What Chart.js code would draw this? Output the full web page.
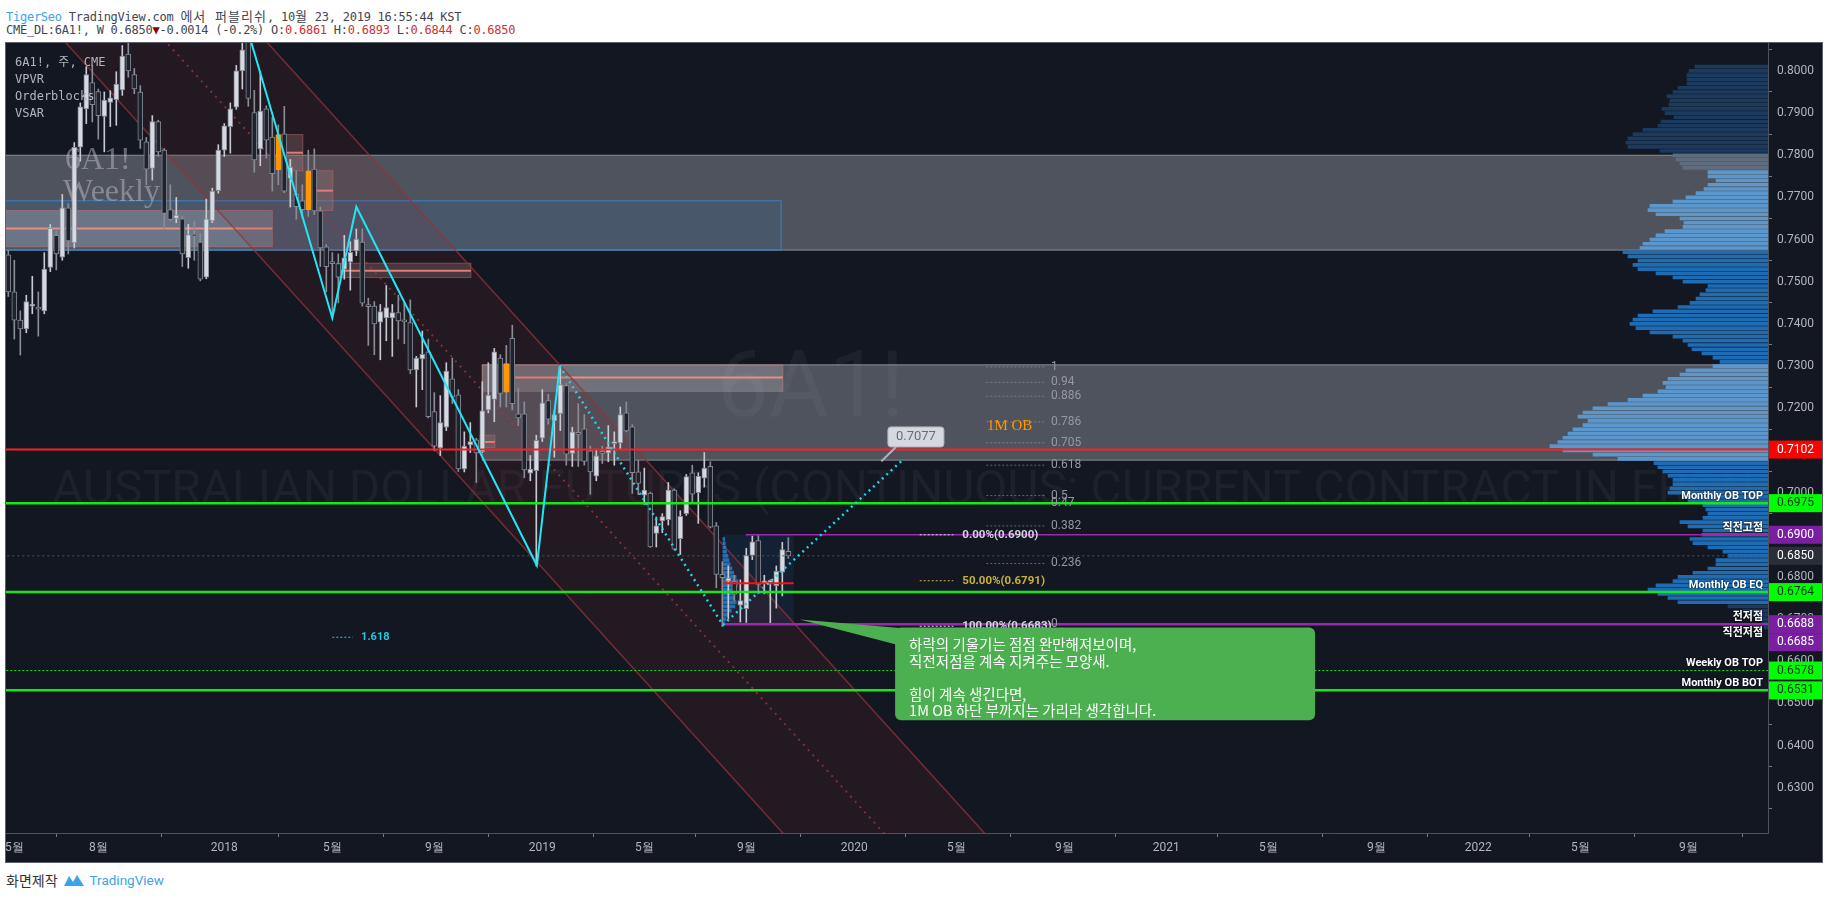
<!DOCTYPE html>
<html>
<head>
<meta charset="utf-8">
<title>6A1! Weekly</title>
<script src="https://cdn.jsdelivr.net/npm/chart.js@4.4.1/dist/chart.umd.min.js"></script>
<style>
  body { margin: 0; width: 1828px; height: 898px; overflow: hidden; background: #fff; position: relative; }
  .hdr { position: absolute; left: 6px; font: 12px "DejaVu Sans Mono", "Noto Sans CJK KR", monospace; letter-spacing: -0.25px; color: #434651; white-space: pre; }
  .hdr .k { letter-spacing: 1px; font-size: 13px; }
  #h1 { top: 6px; }
  #h2 { top: 23px; }
  .r { color: #d32f2f; }
  #frame { position: absolute; left: 5px; top: 42px; width: 1816px; height: 819px; border: 1px solid #5d606b; background: #131722; }
  #chart { display: block; }
  #foot { position: absolute; left: 6px; top: 870px; font: 14px "Noto Sans CJK KR", sans-serif; color: #333; display: flex; align-items: center; gap: 5px; }
  #foot .tv { color: #3ba4e8; font-family: Roboto, sans-serif; font-size: 13.5px; }
</style>
</head>
<body>
<div id="h1" class="hdr"><span style="color:#3ba4e8">TigerSeo</span> TradingView.com <span class="k">에서 퍼블리쉬</span>, 10<span class="k">월</span> 23, 2019 16:55:44 KST</div>
<div id="h2" class="hdr">CME_DL:6A1!, W 0.6850<span style="color:#8b0000">▼</span>-0.0014 (-0.2%) O:<span class="r">0.6861</span> H:<span class="r">0.6893</span> L:<span class="r">0.6844</span> C:<span class="r">0.6850</span></div>
<div id="frame"><canvas id="chart" width="1816" height="819"></canvas></div>
<div id="foot">화면제작
  <svg width="22" height="15" viewBox="0 0 22 15"><path d="M1 13 L6 3 L10 9 L14 2 L21 13 Z" fill="#3ba4e8"/></svg>
  <span class="tv">TradingView</span></div>

<script>
// ========================================
// Data (weekly candles, index 0 = week of 2017-04-24)
// ========================================

const opens = [
  0.7564, 0.7476, 0.7409, 0.7388, 0.7442, 0.7440, 0.7431, 0.7534, 0.7610, 0.7558,
  0.7675, 0.7592, 0.7819, 0.7910, 0.7972, 0.7951, 0.7892, 0.7925, 0.7932, 0.7955,
  0.8040, 0.7991, 0.7950, 0.7832, 0.7769, 0.7880, 0.7812, 0.7671, 0.7650, 0.7649,
  0.7557, 0.7610, 0.7594, 0.7511, 0.7644, 0.7716, 0.7812, 0.7868, 0.7914, 0.8000,
  0.8080, 0.7901, 0.7815, 0.7910, 0.7843, 0.7849, 0.7851, 0.7745, 0.7707, 0.7692,
  0.7763, 0.7767, 0.7668, 0.7583, 0.7545, 0.7543, 0.7530, 0.7547, 0.7573, 0.7594,
  0.7442, 0.7442, 0.7404, 0.7414, 0.7414, 0.7427, 0.7406, 0.7403, 0.7291, 0.7317,
  0.7334, 0.7192, 0.7106, 0.7155, 0.7270, 0.7232, 0.7056, 0.7113, 0.7125, 0.7097,
  0.7196, 0.7221, 0.7319, 0.7306, 0.7366, 0.7187, 0.7187, 0.7046, 0.7052, 0.7129,
  0.7218, 0.7170, 0.7187, 0.7254, 0.7093, 0.7141, 0.7151, 0.7099, 0.7039, 0.7095,
  0.7094, 0.7116, 0.7118, 0.7189, 0.7156, 0.7049, 0.6994, 0.6999, 0.6903, 0.6933,
  0.6936, 0.7006, 0.6891, 0.6950, 0.7047, 0.7000, 0.7034, 0.7062, 0.6921, 0.6806,
  0.6790, 0.6789, 0.6733, 0.6725, 0.6851, 0.6886, 0.6784, 0.6787, 0.6779, 0.6811,
  0.6861
];
const highs = [
  0.7575, 0.7551, 0.7431, 0.7468, 0.7513, 0.7476, 0.7569, 0.7636, 0.7621, 0.7707,
  0.7685, 0.7830, 0.7924, 0.8010, 0.8013, 0.7957, 0.7950, 0.7953, 0.7998, 0.8060,
  0.8090, 0.8006, 0.7965, 0.7842, 0.7894, 0.7883, 0.7816, 0.7730, 0.7700, 0.7655,
  0.7636, 0.7644, 0.7614, 0.7696, 0.7722, 0.7825, 0.7875, 0.7924, 0.8013, 0.8110,
  0.8110, 0.7954, 0.7998, 0.7917, 0.7890, 0.7872, 0.7916, 0.7790, 0.7763, 0.7730,
  0.7812, 0.7815, 0.7677, 0.7588, 0.7569, 0.7566, 0.7610, 0.7595, 0.7625, 0.7625,
  0.7461, 0.7453, 0.7446, 0.7491, 0.7446, 0.7468, 0.7450, 0.7457, 0.7323, 0.7383,
  0.7364, 0.7237, 0.7230, 0.7308, 0.7319, 0.7244, 0.7144, 0.7166, 0.7129, 0.7263,
  0.7308, 0.7342, 0.7327, 0.7349, 0.7397, 0.7248, 0.7215, 0.7088, 0.7136, 0.7244,
  0.7233, 0.7194, 0.7301, 0.7259, 0.7155, 0.7211, 0.7185, 0.7110, 0.7103, 0.7110,
  0.7159, 0.7144, 0.7203, 0.7215, 0.7161, 0.7077, 0.7058, 0.7001, 0.6942, 0.6950,
  0.7024, 0.7009, 0.6957, 0.7043, 0.7065, 0.7047, 0.7095, 0.7073, 0.6929, 0.6836,
  0.6826, 0.6804, 0.6793, 0.6868, 0.6897, 0.6901, 0.6804, 0.6793, 0.6826, 0.6882,
  0.6893
];
const lows = [
  0.7465, 0.7364, 0.7326, 0.7379, 0.7424, 0.7371, 0.7424, 0.7524, 0.7528, 0.7551,
  0.7566, 0.7580, 0.7786, 0.7875, 0.7879, 0.7838, 0.7808, 0.7868, 0.7871, 0.7942,
  0.7985, 0.7946, 0.7816, 0.7730, 0.7741, 0.7797, 0.7625, 0.7644, 0.7640, 0.7536,
  0.7532, 0.7551, 0.7502, 0.7507, 0.7640, 0.7710, 0.7797, 0.7805, 0.7909, 0.7957,
  0.7916, 0.7760, 0.7775, 0.7793, 0.7715, 0.7730, 0.7711, 0.7677, 0.7648, 0.7651,
  0.7655, 0.7659, 0.7536, 0.7476, 0.7416, 0.7450, 0.7506, 0.7480, 0.7562, 0.7442,
  0.7349, 0.7327, 0.7315, 0.7360, 0.7323, 0.7364, 0.7353, 0.7282, 0.7203, 0.7244,
  0.7177, 0.7099, 0.7088, 0.7147, 0.7211, 0.7050, 0.7049, 0.7095, 0.7024, 0.7095,
  0.7189, 0.7168, 0.7203, 0.7203, 0.7196, 0.7159, 0.7035, 0.7028, 0.6826, 0.7121,
  0.7162, 0.7084, 0.7147, 0.7065, 0.7062, 0.7062, 0.7065, 0.6996, 0.7028, 0.7069,
  0.7073, 0.7065, 0.7103, 0.7144, 0.6998, 0.6995, 0.6972, 0.6870, 0.6871, 0.6905,
  0.6923, 0.6864, 0.6853, 0.6946, 0.6976, 0.6927, 0.7013, 0.6916, 0.6774, 0.6683,
  0.6700, 0.6744, 0.6693, 0.6692, 0.6841, 0.6760, 0.6760, 0.6688, 0.6726, 0.6755,
  0.6844
];
const closes = [
  0.7476, 0.7409, 0.7388, 0.7453, 0.7447, 0.7435, 0.7530, 0.7627, 0.7566, 0.7675,
  0.7597, 0.7819, 0.7915, 0.7991, 0.7920, 0.7894, 0.7931, 0.7936, 0.7969, 0.8035,
  0.8000, 0.7957, 0.7836, 0.7767, 0.7880, 0.7808, 0.7662, 0.7648, 0.7658, 0.7566,
  0.7612, 0.7608, 0.7506, 0.7649, 0.7715, 0.7812, 0.7870, 0.7910, 0.8000, 0.8050,
  0.7935, 0.7789, 0.7905, 0.7836, 0.7756, 0.7766, 0.7715, 0.7772, 0.7678, 0.7671,
  0.7671, 0.7668, 0.7580, 0.7536, 0.7543, 0.7511, 0.7557, 0.7570, 0.7601, 0.7449,
  0.7441, 0.7400, 0.7429, 0.7439, 0.7427, 0.7407, 0.7405, 0.7291, 0.7319, 0.7328,
  0.7180, 0.7110, 0.7166, 0.7288, 0.7226, 0.7056, 0.7110, 0.7121, 0.7094, 0.7194,
  0.7231, 0.7334, 0.7235, 0.7238, 0.7211, 0.7177, 0.7054, 0.7056, 0.7124, 0.7213,
  0.7174, 0.7185, 0.7256, 0.7091, 0.7144, 0.7138, 0.7074, 0.7049, 0.7087, 0.7093,
  0.7108, 0.7120, 0.7185, 0.7146, 0.7047, 0.7022, 0.7006, 0.6871, 0.6921, 0.6943,
  0.7006, 0.6866, 0.6944, 0.7038, 0.6996, 0.7039, 0.7058, 0.6918, 0.6806, 0.6798,
  0.6797, 0.6759, 0.6744, 0.6851, 0.6883, 0.6782, 0.6791, 0.6790, 0.6813, 0.6865,
  0.6850
];
const highlightWeeks = [45, 50, 83];   // orange VSAR bars

// time axis: week index of first bar of each labelled month
const tickWeeks = [1, 15, 36, 54, 71, 89, 106, 123, 141, 158, 176, 193, 210, 228, 245, 262, 280];
const tickLabels = ['5월', '8월', '2018', '5월', '9월', '2019', '5월', '9월', '2020', '5월', '9월', '2021', '5월', '9월', '2022', '5월', '9월'];

// visible volume profile, rows from the top price downwards
const vpvrTop = 0.801;
const vpvrStep = 0.001;
const vpvrVolume = [
  73, 79, 81, 81, 81, 90, 95, 101, 98, 99,
  106, 103, 94, 107, 110, 125, 135, 140, 142, 140,
  108, 95, 92, 88, 85, 60, 60, 52, 60, 64,
  72, 82, 95, 118, 120, 112, 88, 84, 85, 103,
  112, 118, 125, 128, 145, 140, 130, 135, 130, 112,
  95, 85, 60, 62, 68, 72, 78, 90, 115, 130,
  135, 138, 132, 118, 95, 85, 80, 76, 66, 55,
  48, 55, 82, 88, 100, 105, 102, 110, 125, 140,
  160, 175, 185, 190, 180, 185, 195, 200, 205, 210,
  218, 205, 175, 150, 114, 110, 105, 100, 95, 95,
  98, 100, 85, 80, 65, 62, 60, 65, 88, 80,
  65, 66, 78, 75, 60, 45, 40, 52, 52, 60,
  75, 90, 95, 112, 120, 110, 100, 90, 40, 25,
  15, 10, 6, 4
];
const valueAreaLow = 0.6735;
const valueAreaHigh = 0.7765;

// session volume profile inside the Aug-Oct 2019 box (weeks of width)
const sessionTop = 0.689;
const sessionVolume = [0.3, 0.4, 0.5, 0.6, 0.8, 1.0, 1.2, 1.5, 1.8, 2.2, 2.5, 2.4, 2.0, 1.6, 1.8, 2.2, 2.0, 1.4, 0.9, 0.5, 0.3];

// descending channel, prices at both end weeks
const channelWeeks = [0, 170];
const channelUpper = [0.8744, 0.6078];
const channelMiddle = [0.8481, 0.5815];
const channelLower = [0.8217, 0.5551];

// swing lines
const swingWeeks = [39, 54, 58, 88.1, 91.9];
const swingPrices = [0.8140, 0.7414, 0.7678, 0.6827, 0.7300];
const projWeeks = [91.9, 119.1, 148.8];
const projPrices = [0.7300, 0.6686, 0.7074];

// order blocks: [fromWeek, toWeek, low, high]
const zoneBoxes = [[-1, 300, 0.7575, 0.7800], [79, 300, 0.7077, 0.7303]];
const weeklyBox = [-1, 128.8, 0.7575, 0.7692];
const obBoxes = [
  [-1, 44, 0.7583, 0.7669], [45.6, 49.1, 0.7763, 0.7849], [51.4, 54.1, 0.7669, 0.7763],
  [54.8, 77.1, 0.7510, 0.7544], [79, 129.1, 0.7240, 0.7303], [78.6, 81.1, 0.7107, 0.7136]
];
const obBoxLight = [true, false, false, false, true, false];
const obLines = [
  [-1, 44, 0.7626], [45.6, 49.1, 0.7806], [51.4, 54.1, 0.7716],
  [54.8, 77.1, 0.7526], [84.1, 129.1, 0.7273], [78.6, 81.1, 0.7120]
];
const sessionBox = [119.1, 130.9, 0.6686, 0.6900];
const sessionPoc = 0.6785;

// horizontal levels
const levelPrices = [0.7102, 0.6975, 0.6764, 0.6578, 0.6531, 0.6900, 0.6688, 0.6850];
const levelFrom = [-1, -1, -1, -1, -1, 122.9, 119.0, -1];
const levelStyles = [
  { color: '#ff1f1f', width: 2 }, { color: '#19e619', width: 2.5 }, { color: '#19e619', width: 2.5 },
  { color: '#19e619', width: 1, dash: [2, 2] }, { color: '#19e619', width: 2.5 },
  { color: '#9c27b0', width: 1.5 }, { color: '#9c27b0', width: 2.5 },
  { color: '#50535e', width: 1, dash: [2, 3] }
];
const sideLabels = ['Monthly OB TOP', '직전고점', 'Monthly OB EQ', '전저점', '직전저점', 'Weekly OB TOP', 'Monthly OB BOT'];
const sidePrices = [0.6975, 0.6900, 0.6764, 0.6688, 0.6685, 0.6578, 0.6531];

// price-axis tags
const tagPrices = [0.7102, 0.6975, 0.6900, 0.6850, 0.6764, 0.6688, 0.6685, 0.6578, 0.6531];
const tagStyles = [
  ['#ff0000', '#ffffff'], ['#00ff00', '#10301a'], ['#7b1fa2', '#ffffff'], ['#2a2e39', '#ffffff'],
  ['#00ff00', '#10301a'], ['#7b1fa2', '#ffffff'], ['#7b1fa2', '#ffffff'], ['#00ff00', '#10301a'], ['#00ff00', '#10301a']
];

// fibonacci retracement of the last swing
const fibLow = 0.6688;
const fibHigh = 0.7298;
const fibLevels = [1, 0.94, 0.886, 0.786, 0.705, 0.618, 0.5, 0.47, 0.382, 0.236, 0];
const retracePrices = [0.6900, 0.6791, 0.6683];
const retraceLabels = ['0.00%(0.6900)', '50.00%(0.6791)', '100.00%(0.6683)'];

const noteLines = ['하락의 기울기는 점점 완만해져보이며,', '직전저점을 계속 지켜주는 모양새.', '', '힘이 계속 생긴다면,', '1M OB 하단 부까지는 가리라 생각합니다.'];

// ========================================
// Derived series
// ========================================

const weeks = opens.map((_, i) => i);
const isUp = weeks.map(i => closes[i] >= opens[i]);
const bodyFill = weeks.map(i => highlightWeeks.includes(i) ? '#ff9800' : (isUp[i] ? '#d6d9e0' : '#1e222d'));
const bodyEdge = weeks.map(i => highlightWeeks.includes(i) ? '#ff9800' : '#858893');
const wickColor = weeks.map(i => isUp[i] ? '#c6c9d1' : '#8a8d96');

const vpvrPrices = vpvrVolume.map((_, i) => vpvrTop - i * vpvrStep);
function inZone(p) {
  return zoneBoxes.some(b => p >= b[2] && p <= b[3]);
}
const vpvrColors = vpvrPrices.map(p => {
  const va = p >= valueAreaLow && p <= valueAreaHigh;
  if (inZone(p)) return va ? '#5b97cc' : '#5f6c7d';
  return va ? '#1e6cb4' : '#1b3a5e';
});
const sessionPrices = sessionVolume.map((_, i) => sessionTop - i * vpvrStep);

function hline(from, to, price, style, order) {
  return {
    type: 'line', data: [{ x: from, y: price }, { x: to, y: price }],
    borderColor: style.color, borderWidth: style.width, borderDash: style.dash || [],
    pointRadius: 0, fill: false, order: order
  };
}

const datasets = [
  {
    type: 'line', label: 'channel',
    data: channelWeeks.map((w, i) => ({ x: w, y: channelUpper[i] })),
    borderColor: 'rgba(150,50,55,0.75)', borderWidth: 1.5, pointRadius: 0,
    fill: '+1', backgroundColor: 'rgba(130,40,50,0.15)', order: 20
  },
  {
    type: 'line',
    data: channelWeeks.map((w, i) => ({ x: w, y: channelLower[i] })),
    borderColor: 'rgba(150,50,55,0.75)', borderWidth: 1.5, pointRadius: 0, fill: false, order: 19
  },
  {
    type: 'line',
    data: channelWeeks.map((w, i) => ({ x: w, y: channelMiddle[i] })),
    borderColor: 'rgba(170,55,60,0.7)', borderWidth: 2, borderDash: [2, 5], pointRadius: 0, fill: false, order: 18
  },
  {
    type: 'bar', label: 'vpvr', indexAxis: 'y', xAxisID: 'xv', yAxisID: 'y',
    data: vpvrPrices.map((p, i) => ({ x: vpvrVolume[i], y: p })),
    backgroundColor: vpvrColors, barThickness: 3, grouped: false, order: 17
  },
  {
    type: 'bar', label: 'session profile', indexAxis: 'y', xAxisID: 'x', yAxisID: 'y',
    data: sessionPrices.map((p, i) => ({ x: [sessionBox[0], sessionBox[0] + sessionVolume[i]], y: p })),
    backgroundColor: 'rgba(33,140,230,0.75)', barThickness: 3, grouped: false, order: 16
  },
  {
    type: 'bar', label: 'wicks',
    data: weeks.map(i => ({ x: i, y: [lows[i], highs[i]] })),
    backgroundColor: wickColor, barThickness: 1, grouped: false, minBarLength: 1, order: 12
  },
  {
    type: 'bar', label: 'bodies',
    data: weeks.map(i => ({ x: i, y: [opens[i], closes[i]] })),
    backgroundColor: bodyFill, borderColor: bodyEdge, borderWidth: 1, borderSkipped: false,
    barThickness: 5, grouped: false, minBarLength: 2, order: 11
  }
];

levelPrices.forEach((p, i) => datasets.push(hline(levelFrom[i], 300, p, levelStyles[i], 8)));
datasets.push(hline(sessionBox[0], sessionBox[1], sessionPoc, { color: '#ff1010', width: 2 }, 7));
datasets.push({
  type: 'line', data: swingWeeks.map((w, i) => ({ x: w, y: swingPrices[i] })),
  borderColor: '#1de9f6', borderWidth: 2, pointRadius: 0, fill: false, tension: 0, order: 5
});
datasets.push({
  type: 'line', data: projWeeks.map((w, i) => ({ x: w, y: projPrices[i] })),
  borderColor: '#22d3e6', borderWidth: 2.5, borderDash: [2, 4], pointRadius: 0, fill: false, tension: 0, order: 4
});

// ========================================
// Overlay drawing (boxes, labels, tags)
// ========================================

function rectFor(x, y, b) {
  const x0 = x.getPixelForValue(b[0]), x1 = x.getPixelForValue(b[1]);
  const y0 = y.getPixelForValue(b[3]), y1 = y.getPixelForValue(b[2]);
  return [x0, y0, x1 - x0, y1 - y0];
}

const overlays = {
  id: 'overlays',
  beforeDraw(chart) {
    const ctx = chart.ctx;
    ctx.save();
    ctx.fillStyle = '#131722';
    ctx.fillRect(0, 0, chart.width, chart.height);
    ctx.restore();
  },
  beforeDatasetsDraw(chart) {
    const { ctx, chartArea: a, scales: { x, y } } = chart;
    ctx.save();
    ctx.beginPath();
    ctx.rect(a.left, a.top, a.right - a.left, a.bottom - a.top);
    ctx.clip();

    // symbol watermark
    ctx.fillStyle = 'rgba(255,255,255,0.045)';
    ctx.textBaseline = 'middle';
    ctx.font = '48px Roboto';
    ctx.fillText('AUSTRALIAN DOLLAR FUTURES (CONTINUOUS: CURRENT CONTRACT IN FRONT)', a.left + 46, a.top + 449);
    ctx.font = '92px Roboto';
    ctx.fillText('6A1!', a.left + 711, a.top + 350);

    zoneBoxes.forEach(b => {
      const r = rectFor(x, y, b);
      ctx.fillStyle = 'rgba(163,166,176,0.42)';
      ctx.fillRect(...r);
      ctx.strokeStyle = 'rgba(160,163,170,0.8)';
      ctx.lineWidth = 1;
      ctx.strokeRect(...r);
    });

    let r = rectFor(x, y, weeklyBox);
    ctx.fillStyle = 'rgba(40,110,200,0.14)';
    ctx.fillRect(...r);
    ctx.strokeStyle = '#3f7fc0';
    ctx.strokeRect(...r);

    obBoxes.forEach((b, i) => {
      const rr = rectFor(x, y, b);
      ctx.fillStyle = obBoxLight[i] ? 'rgba(205,205,210,0.26)' : 'rgba(170,140,140,0.3)';
      ctx.fillRect(...rr);
      ctx.strokeStyle = 'rgba(220,120,120,0.45)';
      ctx.strokeRect(...rr);
    });
    obLines.forEach(l => {
      const py = y.getPixelForValue(l[2]);
      ctx.strokeStyle = '#f08a84';
      ctx.lineWidth = 2;
      ctx.beginPath();
      ctx.moveTo(x.getPixelForValue(l[0]), py);
      ctx.lineTo(x.getPixelForValue(l[1]), py);
      ctx.stroke();
    });

    r = rectFor(x, y, sessionBox);
    ctx.fillStyle = 'rgba(30,100,180,0.13)';
    ctx.fillRect(...r);
    ctx.restore();
  },
  afterDatasetsDraw(chart) {
    const { ctx, chartArea: a, scales: { x, y } } = chart;
    ctx.save();
    ctx.beginPath();
    ctx.rect(a.left, a.top, a.right - a.left, a.bottom - a.top);
    ctx.clip();
    ctx.textBaseline = 'middle';

    // pane legend
    ctx.fillStyle = '#b2b5be';
    ctx.font = '12px "DejaVu Sans Mono", "Noto Sans CJK KR"';
    ['6A1!, 주, CME', 'VPVR', 'Orderblocks', 'VSAR'].forEach((t, i) => ctx.fillText(t, a.left + 9, a.top + 20 + i * 17));

    // text watermark on the weekly zone
    ctx.fillStyle = 'rgba(205,205,210,0.45)';
    ctx.font = '32px "Liberation Serif"';
    ctx.fillText('6A1!', a.left + 59, a.top + 118);
    ctx.fillText('Weekly', a.left + 57, a.top + 150);

    // fibonacci levels
    ctx.font = '12px Roboto';
    fibLevels.forEach(l => {
      const py = y.getPixelForValue(fibLow + l * (fibHigh - fibLow));
      ctx.strokeStyle = 'rgba(160,163,170,0.55)';
      ctx.lineWidth = 1;
      ctx.setLineDash([2, 2]);
      ctx.beginPath();
      ctx.moveTo(x.getPixelForValue(163), py);
      ctx.lineTo(x.getPixelForValue(172.8), py);
      ctx.stroke();
      ctx.fillStyle = '#9598a1';
      ctx.fillText(String(l), x.getPixelForValue(173.8), py);
    });
    ctx.font = 'bold 11.5px Roboto';
    retracePrices.forEach((p, i) => {
      const py = y.getPixelForValue(p);
      const col = i === 1 ? '#c9b23a' : '#d1d4dc';
      ctx.strokeStyle = col;
      ctx.setLineDash([2, 2]);
      ctx.beginPath();
      ctx.moveTo(x.getPixelForValue(151.9), py);
      ctx.lineTo(x.getPixelForValue(157.5), py);
      ctx.stroke();
      ctx.fillStyle = col;
      ctx.fillText(retraceLabels[i], x.getPixelForValue(159), py);
    });

    // 1.618 extension
    const ey = y.getPixelForValue(0.6657);
    ctx.strokeStyle = '#22d3e6';
    ctx.beginPath();
    ctx.moveTo(x.getPixelForValue(54), ey);
    ctx.lineTo(x.getPixelForValue(57.4), ey);
    ctx.stroke();
    ctx.setLineDash([]);
    ctx.fillStyle = '#22c8e0';
    ctx.font = 'bold 11px Roboto';
    ctx.fillText('1.618', x.getPixelForValue(58.8), ey);

    // 1M OB caption
    ctx.fillStyle = '#ff9800';
    ctx.font = '15px "Liberation Serif"';
    ctx.fillText('1M OB', x.getPixelForValue(163.1), y.getPixelForValue(0.7157));

    // projected price bubble
    const bx = x.getPixelForValue(146.6), by = y.getPixelForValue(0.7132);
    ctx.strokeStyle = '#b2b5be';
    ctx.lineWidth = 2;
    ctx.beginPath();
    ctx.moveTo(x.getPixelForValue(145.5), y.getPixelForValue(0.7074));
    ctx.lineTo(bx + 8, by + 10);
    ctx.stroke();
    ctx.fillStyle = '#d5d8df';
    ctx.beginPath();
    ctx.roundRect(bx, by - 10, 56, 20, 3);
    ctx.fill();
    ctx.lineWidth = 1;
    ctx.stroke();
    ctx.fillStyle = '#6a6d78';
    ctx.font = '13px Roboto';
    ctx.textAlign = 'center';
    ctx.fillText('0.7077', bx + 28, by);
    ctx.textAlign = 'left';

    // side labels of the horizontal levels
    ctx.font = 'bold 11px Roboto, "Noto Sans CJK KR"';
    ctx.textAlign = 'right';
    ctx.shadowColor = 'rgba(0,0,0,0.9)';
    ctx.shadowBlur = 2;
    ctx.fillStyle = '#ffffff';
    sideLabels.forEach((t, i) => {
      const py = y.getPixelForValue(sidePrices[i]);
      const below = t === '직전저점';
      ctx.fillText(t, a.right - 5, below ? py + 8 : py - 7);
    });
    ctx.shadowBlur = 0;
    ctx.textAlign = 'left';

    // comment callout
    const nx0 = x.getPixelForValue(147.8), nx1 = x.getPixelForValue(217.8);
    const ny0 = y.getPixelForValue(0.6680), ny1 = y.getPixelForValue(0.6460);
    ctx.fillStyle = '#4caf50';
    ctx.beginPath();
    ctx.moveTo(x.getPixelForValue(131.9), y.getPixelForValue(0.6699));
    ctx.lineTo(x.getPixelForValue(150), y.getPixelForValue(0.6677));
    ctx.lineTo(x.getPixelForValue(148), y.getPixelForValue(0.6640));
    ctx.closePath();
    ctx.fill();
    ctx.beginPath();
    ctx.roundRect(nx0, ny0, nx1 - nx0, ny1 - ny0, 6);
    ctx.fill();
    ctx.fillStyle = '#ffffff';
    ctx.font = '14.5px "Noto Sans CJK KR"';
    noteLines.forEach((t, i) => ctx.fillText(t, nx0 + 14, ny0 + 17 + i * 16.5));
    ctx.restore();
  },
  afterDraw(chart) {
    const { ctx, chartArea: a, scales: { y } } = chart;
    ctx.save();
    ctx.font = '12px Roboto';
    ctx.textBaseline = 'middle';
    let lastY = -100;
    tagPrices.forEach((p, i) => {
      let py = y.getPixelForValue(p);
      if (py < lastY + 18) py = lastY + 18;
      lastY = py;
      ctx.fillStyle = tagStyles[i][0];
      ctx.fillRect(a.right + 1, py - 9, chart.width - a.right - 1, 18);
      ctx.fillStyle = tagStyles[i][1];
      ctx.fillText(p.toFixed(4), a.right + 9, py);
    });
    ctx.restore();
  }
};

// ========================================
// Chart
// ========================================

new Chart(document.getElementById('chart'), {
  type: 'bar',
  data: { datasets: datasets },
  options: {
    responsive: false,
    animation: false,
    events: [],
    devicePixelRatio: 1,
    layout: { padding: 0 },
    plugins: { legend: { display: false }, tooltip: { enabled: false } },
    scales: {
      x: {
        type: 'linear', position: 'bottom', min: -0.383, max: 293.28, offset: false,
        grid: { drawOnChartArea: false, drawTicks: true, tickLength: 4, color: '#787b86' },
        border: { color: '#4c525e' },
        afterBuildTicks: s => { s.ticks = tickWeeks.map(v => ({ value: v })); },
        afterFit: s => { s.height = 29; s.paddingLeft = 0; s.paddingRight = 0; },
        ticks: { autoSkip: false, maxRotation: 0, padding: 4, color: '#b2b5be', font: { family: 'Roboto', size: 12 },
                 callback: (v, i) => tickLabels[i] }
      },
      y: {
        type: 'linear', position: 'right', min: 0.62448, max: 0.801411,
        grid: { drawOnChartArea: false, drawTicks: true, tickLength: 4, color: '#787b86' },
        border: { color: '#4c525e' },
        afterFit: s => { s.width = 54; s.paddingTop = 0; s.paddingBottom = 0; },
        ticks: { stepSize: 0.01, includeBounds: false, padding: 5, color: '#b2b5be', font: { family: 'Roboto', size: 12 },
                 callback: v => v.toFixed(4) }
      },
      xv: { type: 'linear', axis: 'x', display: false, reverse: true, offset: false, min: 0, max: 1762 }
    }
  },
  plugins: [overlays]
});
</script>
</body>
</html>
